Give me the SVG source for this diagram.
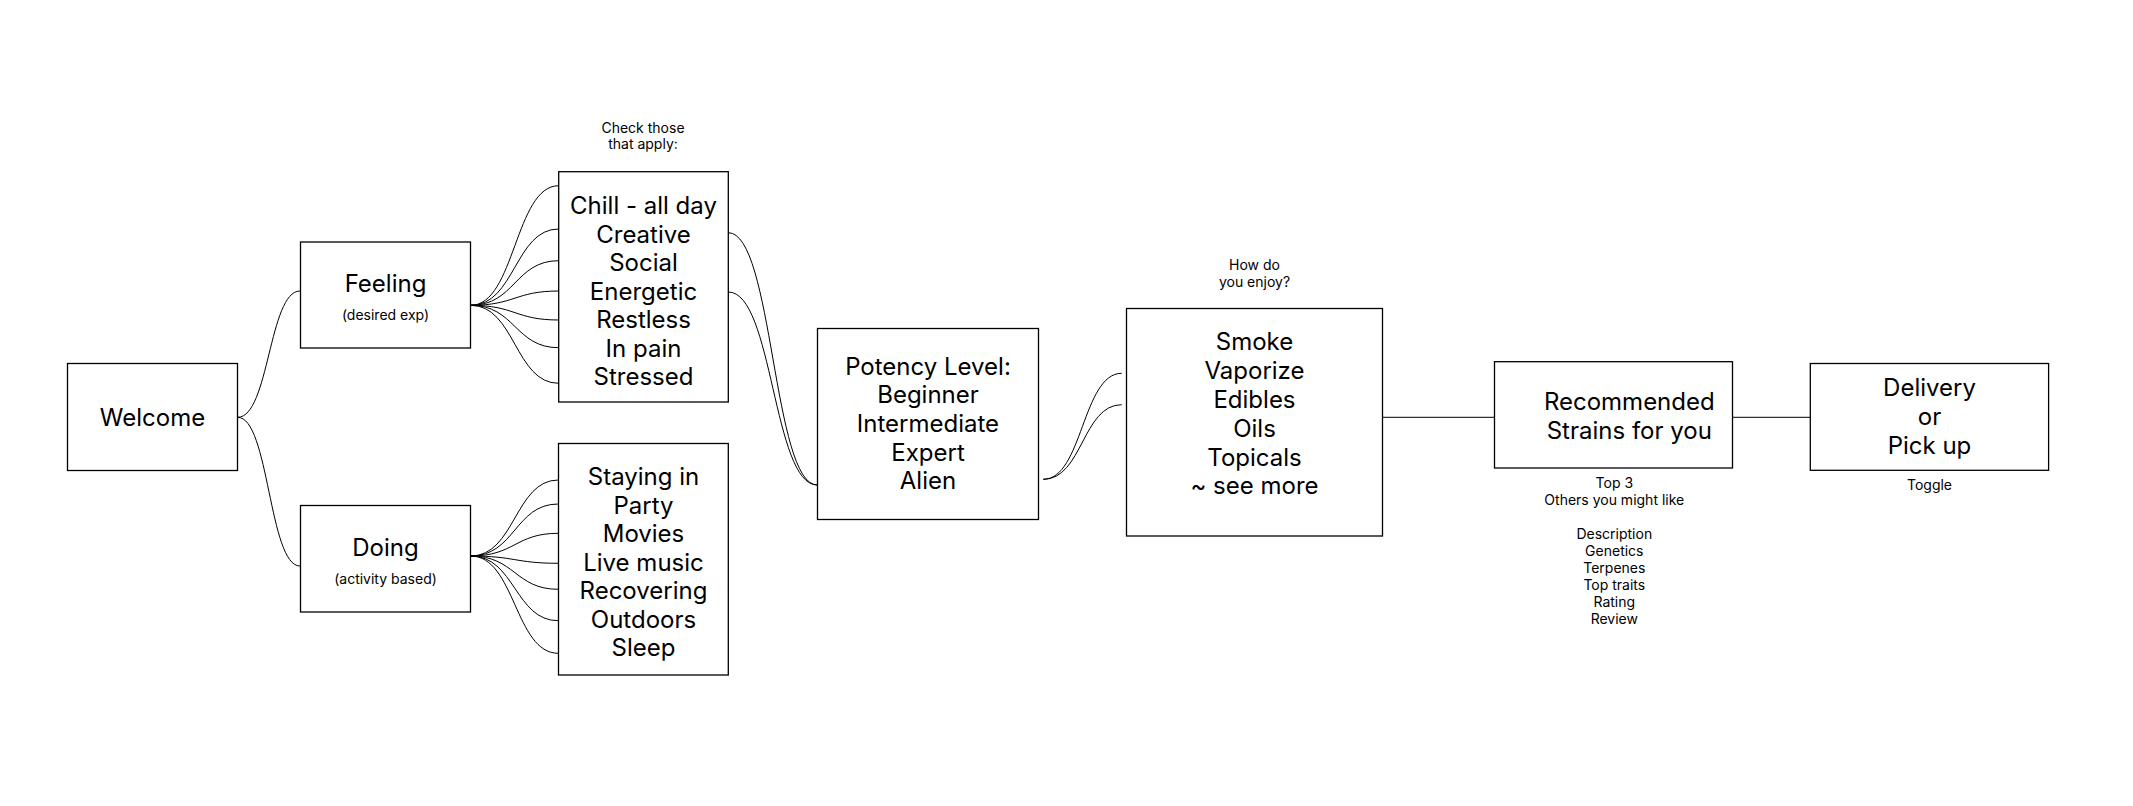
<svg xmlns="http://www.w3.org/2000/svg" width="2133" height="806" viewBox="0 0 2133 806">
<style>
.box{fill:#fff;stroke:#000;stroke-width:1.3}
.t{font-family:Inter,"Liberation Sans",sans-serif;font-size:24px;fill:#000;text-anchor:middle}
.s{font-family:Inter,"Liberation Sans",sans-serif;font-size:14px;fill:#000;text-anchor:middle}
.c{fill:none;stroke:#000;stroke-width:1}
</style>
<rect width="2133" height="806" fill="#fff"/>
<g id="connectors">
<path class="c" d="M237.7,417.3 C269,417.3 269,291 300,291"/>
<path class="c" d="M237.7,417.3 C269,417.3 269,566 300,566"/>
<path class="c" d="M470.7,305.3 C515,305.3 515,185.7 558.7,185.7"/>
<path class="c" d="M470.7,305.3 C515,305.3 515,229 558.7,229"/>
<path class="c" d="M470.7,305.3 C515,305.3 515,260.7 558.7,260.7"/>
<path class="c" d="M470.7,305.3 C515,305.3 515,291 558.7,291"/>
<path class="c" d="M470.7,305.3 C515,305.3 515,320 558.7,320"/>
<path class="c" d="M470.7,305.3 C515,305.3 515,347.7 558.7,347.7"/>
<path class="c" d="M470.7,305.3 C515,305.3 515,383.3 558.7,383.3"/>
<path class="c" d="M470.7,556 C515,556 515,480 558.3,480"/>
<path class="c" d="M470.7,556 C515,556 515,504 558.3,504"/>
<path class="c" d="M470.7,556 C515,556 515,533.3 558.3,533.3"/>
<path class="c" d="M470.7,556 C515,556 515,563.3 558.3,563.3"/>
<path class="c" d="M470.7,556 C515,556 515,589.3 558.3,589.3"/>
<path class="c" d="M470.7,556 C515,556 515,620.7 558.3,620.7"/>
<path class="c" d="M470.7,556 C515,556 515,653.3 558.3,653.3"/>
<path class="c" d="M728.3,232.7 C773,232.7 773,485 817.3,485"/>
<path class="c" d="M728.3,292 C773,292 773,485 817.3,485"/>
<path class="c" d="M1043.3,479.3 C1082.5,479.3 1082.5,373.3 1121.7,373.3"/>
<path class="c" d="M1043.3,479.3 C1082.5,479.3 1082.5,404.7 1121.7,404.7"/>
<path class="c" d="M1382.5,417.3 H1494.5"/>
<path class="c" d="M1732.6,417.3 H1810.3"/>
</g>
<g id="welcome">
<rect class="box" x="67.5" y="363.5" width="170" height="107"/>
<text class="t" x="152.5" y="425.7">Welcome</text>
</g>
<g id="feeling">
<rect class="box" x="300.5" y="242" width="170" height="106"/>
<text class="t" x="385.5" y="292.3">Feeling</text>
<text class="s" x="385.5" y="320">(desired exp)</text>
</g>
<g id="doing">
<rect class="box" x="300.5" y="505.5" width="170" height="106.5"/>
<text class="t" x="385.5" y="556">Doing</text>
<text class="s" x="385.5" y="583.5">(activity based)</text>
</g>
<g id="feelings-list">
<text class="s" x="643" y="133.3">Check those</text>
<text class="s" x="643" y="149.3">that apply:</text>
<rect class="box" x="558.7" y="171.7" width="169.6" height="230.3"/>
<text class="t" x="643.5" y="214"><tspan x="643.5" y="214">Chill - all day</tspan><tspan x="643.5" y="242.5">Creative</tspan><tspan x="643.5" y="271">Social</tspan><tspan x="643.5" y="299.5">Energetic</tspan><tspan x="643.5" y="328">Restless</tspan><tspan x="643.5" y="356.5">In pain</tspan><tspan x="643.5" y="385">Stressed</tspan></text>
</g>
<g id="doing-list">
<rect class="box" x="558.5" y="443.5" width="169.8" height="231.5"/>
<text class="t" x="643.5" y="485"><tspan x="643.5" y="485">Staying in</tspan><tspan x="643.5" y="513.5">Party</tspan><tspan x="643.5" y="542">Movies</tspan><tspan x="643.5" y="570.5">Live music</tspan><tspan x="643.5" y="599">Recovering</tspan><tspan x="643.5" y="627.5">Outdoors</tspan><tspan x="643.5" y="656">Sleep</tspan></text>
</g>
<g id="potency">
<rect class="box" x="817.5" y="328.5" width="221" height="191"/>
<text class="t" x="928" y="374.5"><tspan x="928" y="374.5">Potency Level:</tspan><tspan x="928" y="403.2">Beginner</tspan><tspan x="928" y="431.9">Intermediate</tspan><tspan x="928" y="460.6">Expert</tspan><tspan x="928" y="489.3">Alien</tspan></text>
</g>
<g id="consumption">
<text class="s" x="1254.5" y="270">How do</text>
<text class="s" x="1254.5" y="286.7">you enjoy?</text>
<rect class="box" x="1126.5" y="308.5" width="256" height="227.5"/>
<text class="t" x="1254.5" y="350.4"><tspan x="1254.5" y="350.4">Smoke</tspan><tspan x="1254.5" y="379.2">Vaporize</tspan><tspan x="1254.5" y="408">Edibles</tspan><tspan x="1254.5" y="436.8">Oils</tspan><tspan x="1254.5" y="465.6">Topicals</tspan><tspan x="1254.5" y="494.4">~ see more</tspan></text>
</g>
<g id="recommended">
<rect class="box" x="1494.5" y="361.7" width="238" height="106.3"/>
<text class="t" x="1629.3" y="410"><tspan x="1629.3" y="410">Recommended</tspan><tspan x="1629.3" y="439">Strains for you</tspan></text>
<text class="s" x="1614.3" y="488.3"><tspan x="1614.3" y="488.3">Top 3</tspan><tspan x="1614.3" y="505.2">Others you might like</tspan><tspan x="1614.3" y="539">Description</tspan><tspan x="1614.3" y="555.9">Genetics</tspan><tspan x="1614.3" y="572.8">Terpenes</tspan><tspan x="1614.3" y="589.7">Top traits</tspan><tspan x="1614.3" y="606.6">Rating</tspan><tspan x="1614.3" y="623.5">Review</tspan></text>
</g>
<g id="delivery">
<rect class="box" x="1810.3" y="363.5" width="238.3" height="106.8"/>
<text class="t" x="1929.5" y="395.5"><tspan x="1929.5" y="395.5">Delivery</tspan><tspan x="1929.5" y="424.5">or</tspan><tspan x="1929.5" y="453.5">Pick up</tspan></text>
<text class="s" x="1929.5" y="490">Toggle</text>
</g>
</svg>
